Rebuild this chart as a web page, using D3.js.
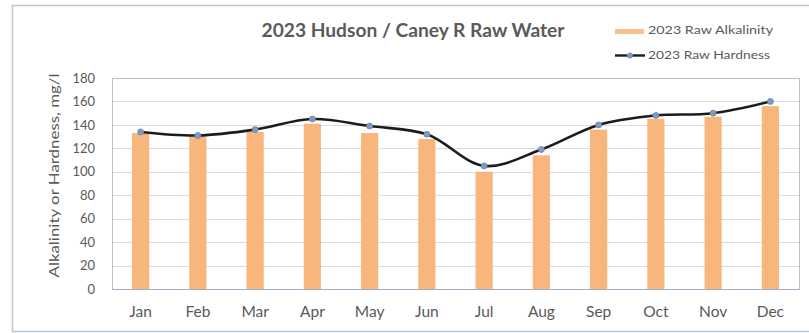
<!DOCTYPE html>
<html>
<head>
<meta charset="utf-8">
<script src="https://cdn.jsdelivr.net/npm/d3@7"></script>
<style>
  html, body { margin: 0; padding: 0; background: #ffffff; }
  svg { display: block; }
  text { font-family: Lato, "Open Sans", sans-serif; }
</style>
</head>
<body>
<svg id="chart" width="809" height="333"></svg>
<script>
const months = ["Jan","Feb","Mar","Apr","May","Jun","Jul","Aug","Sep","Oct","Nov","Dec"];
const alkalinity = [133, 130, 134, 141, 133, 128, 100, 114, 136, 145, 147, 156];
const hardness   = [134, 131, 136, 145, 139, 132, 105, 119, 140, 148, 150, 160];
const yTicks = [0, 20, 40, 60, 80, 100, 120, 140, 160, 180];
const titleText = "2023 Hudson / Caney R Raw Water";
const yLabel = "Alkalinity or Hardness, mg/l";
const legendAlk = "2023 Raw Alkalinity";
const legendHard = "2023 Raw Hardness";

const svg = d3.select("#chart");
const W = 809, H = 333;
const m = { left: 112, right: 10, top: 78, bottom: 44 };
const x0 = m.left, x1 = W - m.right, y0 = m.top, y1 = H - m.bottom;

// outer frame
svg.append("rect").attr("x", 12.5).attr("y", 5.5).attr("width", 810).attr("height", 326)
  .attr("fill", "#ffffff").attr("stroke", "#b9c6d3").attr("stroke-width", 1.5);

const x = d3.scaleBand().domain(months).range([x0, x1]).paddingInner(0.7).paddingOuter(0.35);
const y = d3.scaleLinear().domain([0, 180]).range([y1, y0]);

// gridlines
svg.append("g").selectAll("line").data(yTicks.filter(t => t > 0 && t < 180)).join("line")
  .attr("x1", x0).attr("x2", x1)
  .attr("y1", d => Math.round(y(d)) + 0.5).attr("y2", d => Math.round(y(d)) + 0.5)
  .attr("stroke", "#dcdcdc").attr("stroke-width", 1);

// plot border
svg.append("rect").attr("x", x0 + 0.5).attr("y", y0 + 0.5)
  .attr("width", x1 - x0).attr("height", y1 - y0)
  .attr("fill", "none").attr("stroke", "#bfbfbf").attr("stroke-width", 1);

// bars
svg.append("g").selectAll("rect").data(alkalinity).join("rect")
  .attr("x", (d, i) => x(months[i]))
  .attr("width", x.bandwidth())
  .attr("y", d => y(d))
  .attr("height", d => y(0) - y(d))
  .attr("fill", "#f8b57c");

// bottom axis line
svg.append("line").attr("x1", x0).attr("x2", x1).attr("y1", y1 + 0.5).attr("y2", y1 + 0.5)
  .attr("stroke", "#9fb0c8").attr("stroke-width", 1.2);

// y axis
const yAxis = d3.axisLeft(y).tickValues(yTicks).tickSize(0).tickPadding(17);
const gy = svg.append("g").attr("transform", `translate(${x0},0)`).call(yAxis);
gy.select(".domain").remove();
gy.selectAll("text").attr("font-size", 13).attr("fill", "#595959")
  .style("font-family", "Lato, sans-serif");

// x axis
const xAxis = d3.axisBottom(x).tickSize(0).tickPadding(17);
const gx = svg.append("g").attr("transform", `translate(0,${y1})`).call(xAxis);
gx.select(".domain").remove();
gx.selectAll("text").attr("font-size", 15.5).attr("fill", "#595959")
  .style("font-family", "Lato, sans-serif");

// line
const cx = i => x(months[i]) + x.bandwidth() / 2;
const line = d3.line().x((d, i) => cx(i)).y(d => y(d)).curve(d3.curveCatmullRom.alpha(0.5));
svg.append("path").datum(hardness).attr("d", line)
  .attr("fill", "none").attr("stroke", "#1c1c1c").attr("stroke-width", 2.6);
svg.append("g").selectAll("circle").data(hardness).join("circle")
  .attr("cx", (d, i) => cx(i)).attr("cy", d => y(d)).attr("r", 3)
  .attr("fill", "#7f9cc0").attr("stroke", "#6a86ad").attr("stroke-width", 0.8);

// y label
svg.append("text")
  .attr("transform", `translate(56,${(y0 + y1) / 2 - 8}) rotate(-90)`)
  .attr("text-anchor", "middle").attr("dominant-baseline", "middle")
  .attr("font-size", 13).attr("textLength", 204).attr("lengthAdjust", "spacingAndGlyphs")
  .attr("fill", "#595959").text(yLabel);

// title
svg.append("text").attr("x", 413).attr("y", 37).attr("text-anchor", "middle")
  .attr("font-size", 19).attr("font-weight", 700).attr("fill", "#5a5a5a")
  .attr("textLength", 303).attr("lengthAdjust", "spacingAndGlyphs").text(titleText);

// legend
const lg = svg.append("g");
lg.append("rect").attr("x", 615).attr("y", 29).attr("width", 29).attr("height", 5).attr("fill", "#f8c08a");
lg.append("text").attr("x", 648).attr("y", 31.5).attr("dominant-baseline", "middle")
  .attr("font-size", 11.5).attr("textLength", 125).attr("lengthAdjust", "spacingAndGlyphs")
  .attr("fill", "#595959").text(legendAlk);
lg.append("line").attr("x1", 615).attr("x2", 645).attr("y1", 55.5).attr("y2", 55.5)
  .attr("stroke", "#1c1c1c").attr("stroke-width", 2.4);
lg.append("circle").attr("cx", 630).attr("cy", 55.5).attr("r", 2.6)
  .attr("fill", "#7f9cc0").attr("stroke", "#6a86ad").attr("stroke-width", 0.8);
lg.append("text").attr("x", 648).attr("y", 56).attr("dominant-baseline", "middle")
  .attr("font-size", 11.5).attr("textLength", 122).attr("lengthAdjust", "spacingAndGlyphs")
  .attr("fill", "#595959").text(legendHard);
</script>
</body>
</html>
